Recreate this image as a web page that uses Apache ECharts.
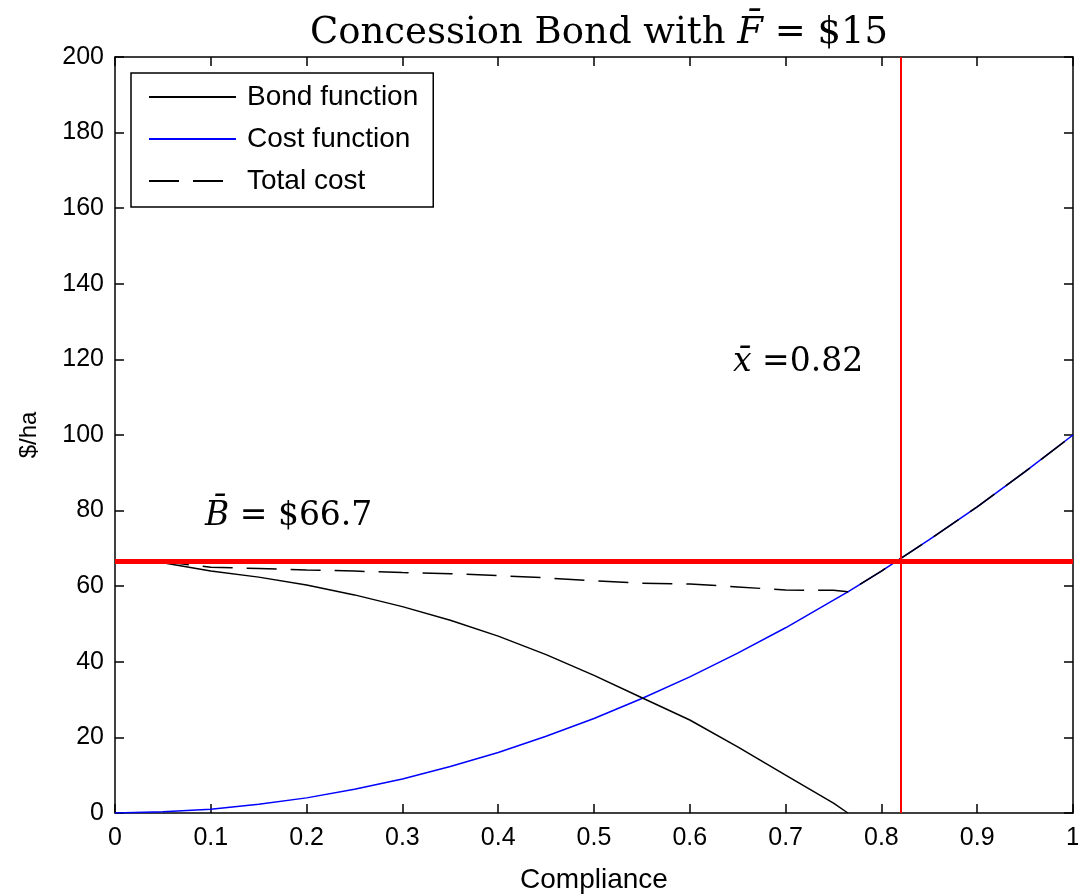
<!DOCTYPE html>
<html>
<head>
<meta charset="utf-8">
<script src="https://cdn.jsdelivr.net/npm/echarts@6/dist/echarts.min.js"></script>
<style>
  html, body { margin: 0; padding: 0; background: #fff; }
  #main { width: 1078px; height: 894px; }
</style>
</head>
<body>
<div id="main"></div>
<script>
// compliance grid (x)
var xs = [0, 0.05, 0.1, 0.15, 0.2, 0.25, 0.3, 0.35, 0.4, 0.45, 0.5, 0.55, 0.6, 0.65, 0.7, 0.75, 0.765, 0.8, 0.85, 0.9, 0.95, 1];
// $/ha values
var bondVals  = [66.7, 66.2, 64.0, 62.4, 60.3, 57.7, 54.6, 51.0, 46.8, 41.9, 36.4, 30.5, 24.6, 17.5, 10.0, 2.6, 0];
var costVals  = [0, 0.3, 1.0, 2.3, 4.0, 6.3, 9.0, 12.3, 16.0, 20.3, 25.0, 30.3, 36.0, 42.3, 49.0, 56.3, 58.5, 64.0, 72.3, 81.0, 90.3, 100];
var totalVals = [66.7, 66.5, 65.0, 64.7, 64.3, 64.0, 63.6, 63.3, 62.8, 62.2, 61.4, 60.8, 60.6, 59.8, 59.0, 58.9, 58.5, 64.0, 72.3, 81.0, 90.3, 100];
var bBar = 66.7;   // horizontal red line
var xBar = 0.82;   // vertical red line
var xTicks = ['0', '0.1', '0.2', '0.3', '0.4', '0.5', '0.6', '0.7', '0.8', '0.9', '1'];

function pairs(vals) {
  return vals.map(function (v, i) { return [xs[i], v]; });
}

var chart = echarts.init(document.getElementById('main'));
var sans = 'Liberation Sans';
var serif = 'DejaVu Serif';
var tickFont = { fontFamily: sans, fontSize: 25, color: '#000' };
var axisLineStyle = { show: true, onZero: false, lineStyle: { color: '#000', width: 1.5 } };
var tickStyle = { show: true, inside: true, length: 9, lineStyle: { color: '#000', width: 1.5 } };

chart.setOption({
  animation: false,
  title: {
    text: 'Concession Bond with {i|F\u0304} = $15',
    left: 594,
    textAlign: 'center',
    top: 10,
    textStyle: {
      fontFamily: serif, fontSize: 37, fontWeight: 'normal', color: '#000',
      rich: { i: { fontFamily: serif, fontSize: 37, fontStyle: 'italic', color: '#000' } }
    }
  },
  legend: {
    orient: 'vertical',
    left: 131,
    top: 73,
    padding: [10, 15, 12, 17],
    itemGap: 14,
    itemWidth: 87,
    itemHeight: 4,
    borderColor: '#000',
    borderWidth: 1.5,
    backgroundColor: '#fff',
    itemStyle: { opacity: 0 },
    textStyle: { fontFamily: sans, fontSize: 28, color: '#000', padding: [0, 0, 0, 6] },
    data: ['Bond function', 'Cost function', 'Total cost']
  },
  grid: { left: 115, right: 5, top: 57, bottom: 81, outerBoundsMode: 'none' },
  xAxis: [{
    type: 'value', min: 0, max: 1, interval: 0.1,
    name: 'Compliance', nameLocation: 'middle', nameGap: 53,
    nameTextStyle: { fontFamily: sans, fontSize: 28, color: '#000' },
    axisLine: axisLineStyle,
    axisTick: tickStyle,
    axisLabel: Object.assign({ margin: 13, formatter: function (v, i) { return xTicks[i]; } }, tickFont),
    splitLine: { show: false }
  }, {
    type: 'value', min: 0, max: 1, interval: 0.1, position: 'top',
    axisLine: axisLineStyle,
    axisTick: tickStyle,
    axisLabel: { show: false }, splitLine: { show: false }
  }],
  yAxis: [{
    type: 'value', min: 0, max: 200, interval: 20,
    name: '$/ha', nameLocation: 'middle', nameGap: 74, nameRotate: 90,
    nameTextStyle: { fontFamily: sans, fontSize: 24, color: '#000' },
    axisLine: axisLineStyle,
    axisTick: tickStyle,
    axisLabel: Object.assign({ margin: 11 }, tickFont),
    splitLine: { show: false }
  }, {
    type: 'value', min: 0, max: 200, interval: 20, position: 'right',
    axisLine: axisLineStyle,
    axisTick: tickStyle,
    axisLabel: { show: false }, splitLine: { show: false }
  }],
  graphic: [
    {
      type: 'text', left: 205, top: 500,
      style: {
        text: '{i|B\u0304} = $66.7',
        fontFamily: serif, fontSize: 33, fill: '#000',
        rich: { i: { fontFamily: serif, fontSize: 33, fontStyle: 'italic' } }
      }
    },
    {
      type: 'text', left: 733, top: 346,
      style: {
        text: '{i|x\u0304} =0.82',
        fontFamily: serif, fontSize: 33, fill: '#000',
        rich: { i: { fontFamily: serif, fontSize: 33, fontStyle: 'italic' } }
      }
    }
  ],
  series: [
    {
      name: 'Bond function', type: 'line', data: pairs(bondVals),
      symbol: 'none', color: '#000', lineStyle: { color: '#000', width: 1.5 }, z: 3
    },
    {
      name: 'Cost function', type: 'line', data: pairs(costVals),
      symbol: 'none', color: '#0000ff', lineStyle: { color: '#0000ff', width: 1.5 }, z: 2
    },
    {
      name: 'Total cost', type: 'line', data: pairs(totalVals),
      symbol: 'none', color: '#000', lineStyle: { color: '#000', width: 1.5, type: [30, 14] }, z: 4,
      markLine: {
        silent: true, symbol: 'none', label: { show: false }, z: 6,
        data: [
          { yAxis: bBar, lineStyle: { color: '#ff0000', width: 5, type: 'solid' } },
          { xAxis: xBar, lineStyle: { color: '#ff0000', width: 2, type: 'solid' } }
        ]
      }
    }
  ]
});
</script>
</body>
</html>
